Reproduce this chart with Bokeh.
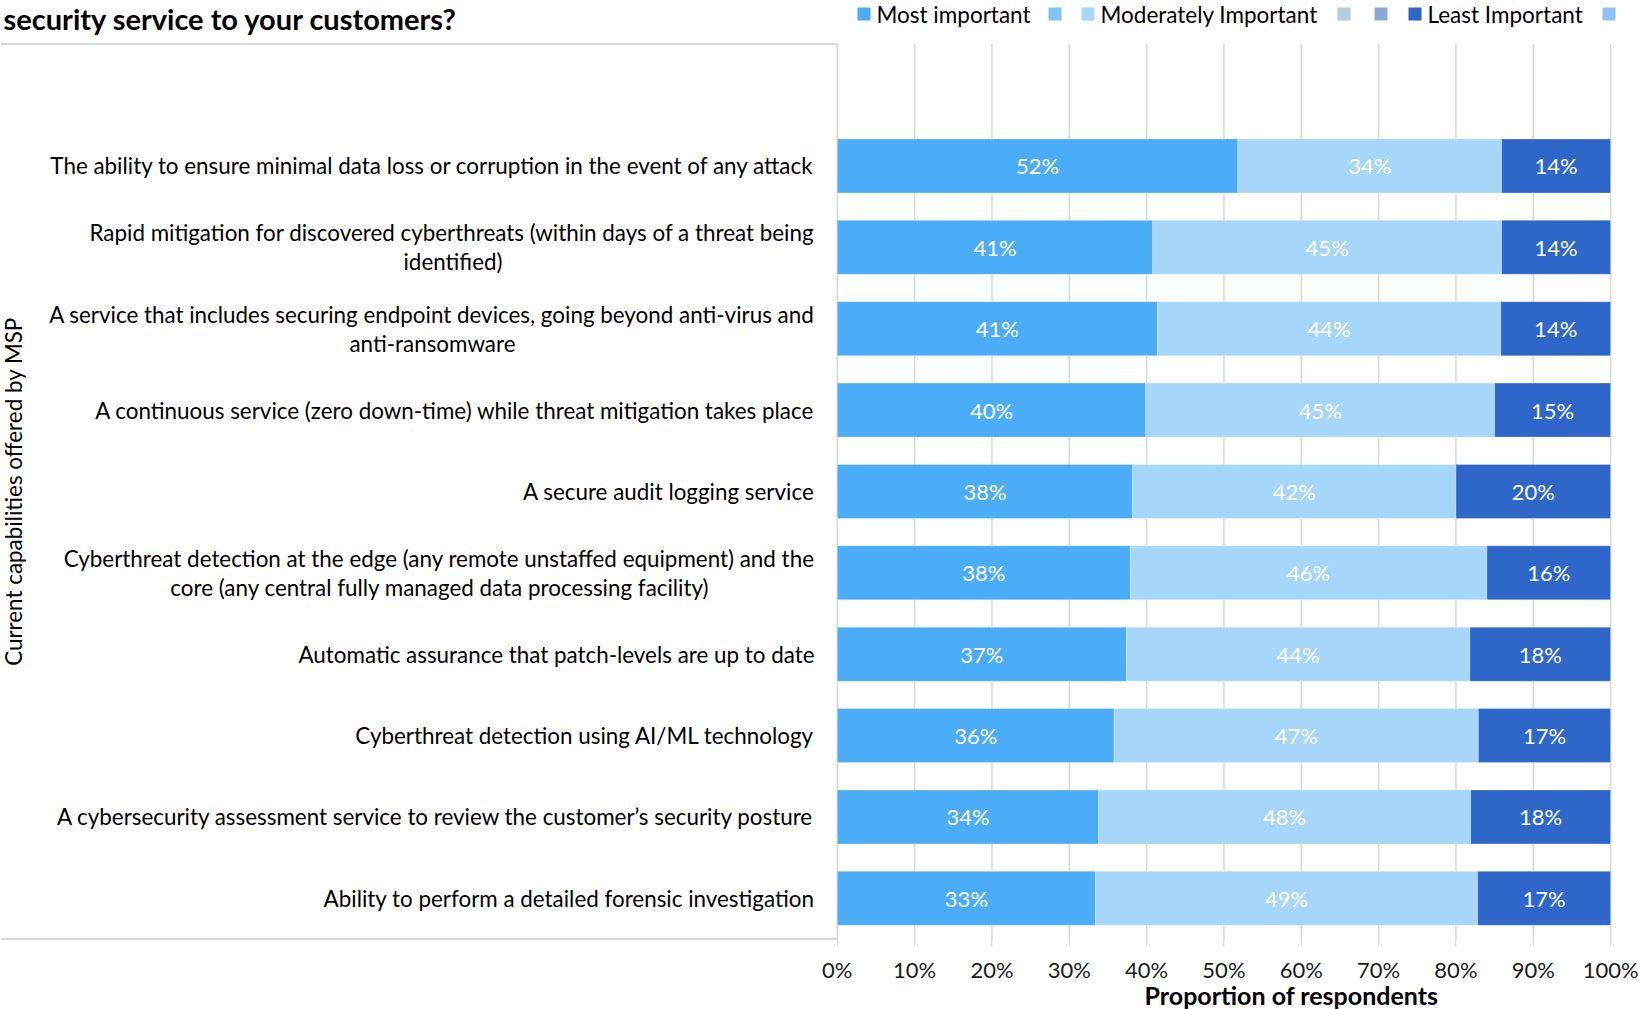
import math
from bokeh.plotting import figure
from bokeh.models import ColumnDataSource, Range1d, FixedTicker
from bokeh.core.properties import value
from bokeh.embed import file_html
from bokeh.resources import INLINE

# ---------------- data (top to bottom) ----------------
categories = [
    "The ability to ensure minimal data loss or corruption in the event of any attack",
    "Rapid mitigation for discovered cyberthreats (within days of a threat being\nidentified)",
    "A service that includes securing endpoint devices, going beyond anti-virus and\nanti-ransomware",
    "A continuous service (zero down-time) while threat mitigation takes place",
    "A secure audit logging service",
    "Cyberthreat detection at the edge (any remote unstaffed equipment) and the\ncore (any central fully managed data processing facility)",
    "Automatic assurance that patch-levels are up to date",
    "Cyberthreat detection using AI/ML technology",
    "A cybersecurity assessment service to review the customer\u2019s security posture",
    "Ability to perform a detailed forensic investigation",
]
most_important = [51.8, 40.8, 41.4, 39.9, 38.2, 37.9, 37.4, 35.8, 33.8, 33.4]
moderately_important = [34.1, 45.1, 44.4, 45.1, 41.8, 46.1, 44.4, 47.1, 48.1, 49.4]
least_important = [14.1, 14.1, 14.2, 15.0, 20.0, 16.0, 18.2, 17.1, 18.1, 17.2]
series_names = ["Most important", "Moderately Important", "Least Important"]
legend_labels = ["Most important", "", "Moderately Important", "", "", "Least Important", ""]
x_ticks = [0, 10, 20, 30, 40, 50, 60, 70, 80, 90, 100]
tick_labels = ["0%", "10%", "20%", "30%", "40%", "50%", "60%", "70%", "80%", "90%", "100%"]
title_text = "security service to your customers?"
x_title = "Proportion of respondents"
y_title = "Current capabilities offered by MSP"

# ---------------- styles / layout ----------------
C_MOST = "#4BACF7"
C_MOD = "#A6D6FA"
C_LEAST = "#2E66C9"
legend_colors = [C_MOST, "#7FC3F5", C_MOD, "#B3CDE1", "#8CA6D8", C_LEAST, "#92C1F7"]
legend_square_left_px = [857, 1048, 1081, 1337, 1374, 1408, 1602]
GRID = "#D9D9D9"
FONT = "Lato"
W, H = 1639, 1009
X0_PX, PX_PER_PCT = 836.8, 7.733      # 0% position and px per percent
Y0_PX, PX_PER_ROW = 897.8, 81.37      # bottom row centre and row pitch


def xd(px):
    return (px - X0_PX) / PX_PER_PCT


def yd(px):
    return (Y0_PX - px) / PX_PER_ROW


n = len(categories)
ys = [n - 1 - i for i in range(n)]

p = figure(width=W, height=H, output_backend="svg", toolbar_location=None,
           x_range=Range1d(xd(0), xd(W)), y_range=Range1d(yd(H), yd(0)),
           min_border_left=0, min_border_right=0, min_border_top=0, min_border_bottom=0,
           outline_line_color=None, title=None)
p.grid.visible = False
p.yaxis.visible = False

ax = p.xaxis[0]
ax.fixed_location = -0.5
ax.ticker = FixedTicker(ticks=x_ticks)
ax.major_label_overrides = {t: l for t, l in zip(x_ticks, tick_labels)}
ax.axis_line_color = None
ax.major_tick_in = 0
ax.major_tick_out = 8
ax.major_tick_line_color = GRID
ax.major_tick_line_width = 1.5
ax.minor_tick_line_color = None
ax.major_label_standoff = 9
ax.major_label_text_font = FONT
ax.major_label_text_font_size = "22px"
ax.major_label_text_color = "#1a1a1a"

# grid lines
p.segment(x0=x_ticks, y0=[-0.5] * len(x_ticks), x1=x_ticks, y1=[n + 0.5] * len(x_ticks),
          line_color=GRID, line_width=1.5)
# box lines on the label side
p.segment(x0=[xd(0), xd(0)], y0=[n + 0.5, -0.5], x1=[0, 0], y1=[n + 0.5, -0.5],
          line_color=GRID, line_width=2)

src = ColumnDataSource(dict(y=ys, most=most_important, mod=moderately_important,
                            least=least_important))
p.hbar_stack(["most", "mod", "least"], y="y", height=0.664, source=src,
             color=[C_MOST, C_MOD, C_LEAST], line_color="white", line_alpha=0.3,
             line_width=1)

# data labels
lx, ly, lt = [], [], []
for i in range(n):
    a, b, c = most_important[i], moderately_important[i], least_important[i]
    for centre, v in ((a / 2, a), (a + b / 2, b), (a + b + c / 2, c)):
        lx.append(centre)
        ly.append(ys[i])
        lt.append(f"{v:.0f}%")
p.text(x=lx, y=ly, text=lt, text_align="center", text_baseline="middle",
       text_color="white", text_font=value(FONT), text_font_size="22px")

# category labels (wrapped lines centred under each other, block right-aligned)
LABEL_RIGHT_PX = 814
LINE_PX = 29
first_line_width_px = {1: 723, 2: 764, 5: 749}
tx, ty, tt, ta = [], [], [], []
for i, cat in enumerate(categories):
    lines = cat.split("\n")
    yc = Y0_PX - ys[i] * PX_PER_ROW
    if len(lines) == 1:
        tx.append(xd(LABEL_RIGHT_PX)); ty.append(yd(yc)); tt.append(lines[0]); ta.append("right")
    else:
        w1 = first_line_width_px[i]
        tx.append(xd(LABEL_RIGHT_PX)); ty.append(yd(yc - LINE_PX / 2)); tt.append(lines[0]); ta.append("right")
        tx.append(xd(LABEL_RIGHT_PX - w1 / 2)); ty.append(yd(yc + LINE_PX / 2)); tt.append(lines[1]); ta.append("center")
p.text(x="x", y="y", text="t", text_align="a",
       source=ColumnDataSource(dict(x=tx, y=ty, t=tt, a=ta)),
       text_baseline="middle", text_color="#000000", text_font=value(FONT),
       text_font_size="22.4px")

# axis titles
p.text(x=[xd(13)], y=[yd(491)], text=[y_title], angle=math.pi / 2, text_align="center",
       text_baseline="middle", text_color="#000000", text_font=value(FONT),
       text_font_size="22.4px")
p.text(x=[xd(1291)], y=[yd(994)], text=[x_title], text_align="center",
       text_baseline="middle", text_color="#000000", text_font=value(FONT),
       text_font_size="25px", text_font_style="bold")

# title (cropped second line of the question)
p.text(x=[xd(3)], y=[yd(17.5)], text=[title_text], text_align="left",
       text_baseline="middle", text_color="#000000", text_font=value(FONT),
       text_font_size="29px", text_font_style="bold")

# legend
sq_x = [xd(px + 6.5) for px in legend_square_left_px]
p.rect(x=sq_x, y=[yd(13.5)] * len(sq_x), width=13, height=13, width_units="screen",
       height_units="screen", fill_color=legend_colors, line_color=None)
lg_x, lg_t = [], []
for px, lab in zip(legend_square_left_px, legend_labels):
    if lab:
        lg_x.append(xd(px + 19)); lg_t.append(lab)
p.text(x=lg_x, y=[yd(14)] * len(lg_x), text=lg_t, text_align="left",
       text_baseline="middle", text_color="#000000", text_font=value(FONT),
       text_font_size="22.5px")

open("out.html", "w").write(file_html(p, INLINE))
